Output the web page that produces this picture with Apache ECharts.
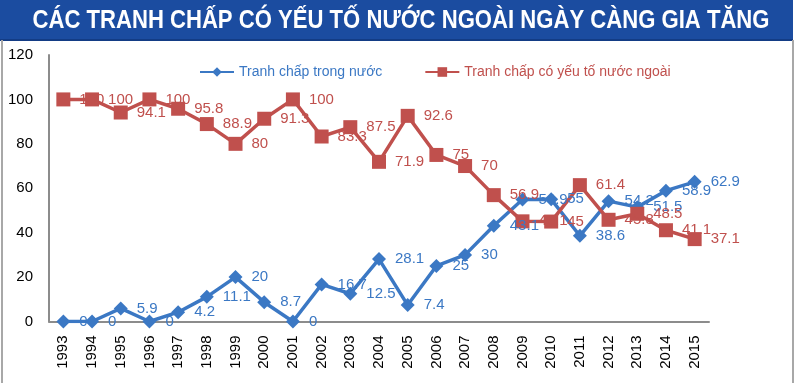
<!DOCTYPE html>
<html>
<head>
<meta charset="utf-8">
<script src="https://cdn.jsdelivr.net/npm/echarts@6/dist/echarts.min.js"></script>
<style>html,body{margin:0;padding:0;background:#fff}#c{width:800px;height:383px}</style>
</head>
<body>
<div id="c"></div>
<script>
const years = ['1993','1994','1995','1996','1997','1998','1999','2000','2001','2002','2003','2004','2005','2006','2007','2008','2009','2010','2011','2012','2013','2014','2015'];
const domestic = [0,0,5.9,0,4.2,11.1,20,8.7,0,16.7,12.5,28.1,7.4,25,30,43.1,54.9,55,38.6,54.2,51.5,58.9,62.9];
const foreign = [100,100,94.1,100,95.8,88.9,80,91.3,100,83.3,87.5,71.9,92.6,75,70,56.9,45.1,45,61.4,45.8,48.5,41.1,37.1];
const yTicks = [0,20,40,60,80,100,120];
const titleText = 'CÁC TRANH CHẤP CÓ YẾU TỐ NƯỚC NGOÀI NGÀY CÀNG GIA TĂNG';
const seriesNames = ['Tranh chấp trong nước','Tranh chấp có yếu tố nước ngoài'];

const BLUE = '#3B78C4', RED = '#C0504D';
const chart = echarts.init(document.getElementById('c'), null, {renderer:'canvas'});
chart.setOption({
  animation:false,
  backgroundColor:'#fff',
  graphic:[
    {type:'rect', shape:{x:0,y:0,width:793,height:40}, style:{fill:'#1B4CA0'}, z:0},
    {type:'rect', shape:{x:0,y:39,width:793,height:2}, style:{fill:'#133C85'}, z:0},
    {type:'rect', shape:{x:1,y:40,width:2,height:343}, style:{fill:'#A8A8A8'}, z:0},
    {type:'rect', shape:{x:792,y:40,width:2,height:343}, style:{fill:'#A8A8A8'}, z:0},
    {type:'text', x:401, y:21, scaleX:0.85, z:5,
     style:{text:titleText, fill:'#fff', font:'bold 26px "Liberation Sans", Arial, sans-serif', align:'center', verticalAlign:'middle'}}
  ],
  legend:{
    left:194, top:60, itemGap:42, itemWidth:34, itemHeight:12,
    data:[
      {name:seriesNames[0], textStyle:{color:BLUE}},
      {name:seriesNames[1], textStyle:{color:RED}}
    ],
    textStyle:{fontSize:14, fontFamily:'Liberation Sans, sans-serif'}
  },
  grid:{left:49, right:91, top:55, bottom:61.5, containLabel:false},
  xAxis:{
    type:'category', data:years, boundaryGap:true,
    axisLine:{lineStyle:{color:'#8C8C8C', width:2}},
    axisTick:{show:false},
    axisLabel:{rotate:90, color:'#000', fontSize:15, margin:14, interval:0, fontFamily:'Liberation Sans, sans-serif'}
  },
  yAxis:{
    type:'value', min:0, max:120, interval:20,
    axisLine:{show:true, lineStyle:{color:'#8C8C8C', width:2}},
    axisTick:{show:false},
    splitLine:{show:false},
    axisLabel:{color:'#000', fontSize:15, margin:16, fontFamily:'Liberation Sans, sans-serif',
      formatter:v=>yTicks.includes(v)?String(v):''}
  },
  series:[
    {name:seriesNames[0], type:'line', data:domestic, color:BLUE,
     symbol:'diamond', symbolSize:14, lineStyle:{width:3.5, color:BLUE}, itemStyle:{color:BLUE},
     label:{show:true, position:'right', distance:9, color:BLUE, fontSize:15, fontFamily:'Liberation Sans, sans-serif'}},
    {name:seriesNames[1], type:'line', data:foreign, color:RED,
     symbol:'rect', symbolSize:14, lineStyle:{width:3.5, color:RED}, itemStyle:{color:RED},
     label:{show:true, position:'right', distance:9, color:RED, fontSize:15, fontFamily:'Liberation Sans, sans-serif'}}
  ]
});
</script>
</body>
</html>
